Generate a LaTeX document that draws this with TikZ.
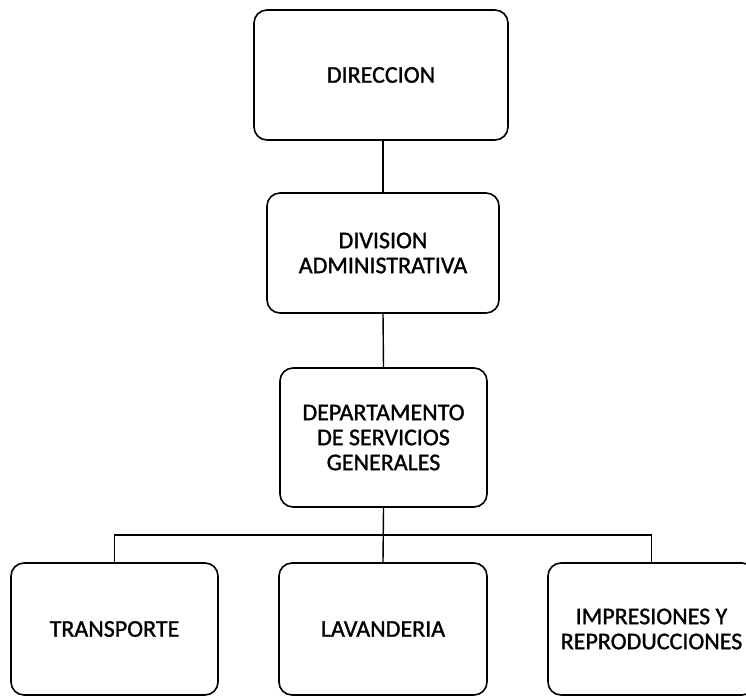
\documentclass[tikz,border=0pt]{standalone}
\usepackage{fontspec}
\setmainfont[FakeBold=1.2]{Carlito}
\begin{document}
\begin{tikzpicture}[x=1pt,y=-1pt,
  orgbox/.style={draw=black, line width=1.6pt, rounded corners=13pt,
    align=center, inner sep=0pt, font=\fontsize{24}{25}\selectfont},
  link/.style={draw=black, line width=1.4pt}]
  \useasboundingbox (0,0) rectangle (746,698);
  \clip (0,0) rectangle (746,698);
  % upper chain
  \node[orgbox, minimum width=254pt, minimum height=130pt] (dir) at (381,75) {DIRECCION};
  \node[orgbox, minimum width=232pt, minimum height=120pt] (div) at (383,253) {DIVISION\\ADMINISTRATIVA};
  \node[orgbox, minimum width=207pt, minimum height=139pt] (dep) at (383.5,437.5) {DEPARTAMENTO\\DE SERVICIOS\\GENERALES};
  % lower row
  \node[orgbox, minimum width=207pt, minimum height=132pt] (tra) at (114.5,629) {TRANSPORTE};
  \node[orgbox, minimum width=208pt, minimum height=132pt] (lav) at (383,629) {LAVANDERIA};
  \node[orgbox, minimum width=207pt, minimum height=132pt] (imp) at (651.5,629) {IMPRESIONES Y\\REPRODUCCIONES};
  \coordinate (bus) at (383,535);
  % connectors
  \draw[link] (dir.south -| div.north) -- (div.north);
  \draw[link] (div.south) -- (dep.north);
  \draw[link] (dep.south) -- (lav.north);
  \draw[link] (tra.north) |- (bus) -| (imp.north);
\end{tikzpicture}
\end{document}
